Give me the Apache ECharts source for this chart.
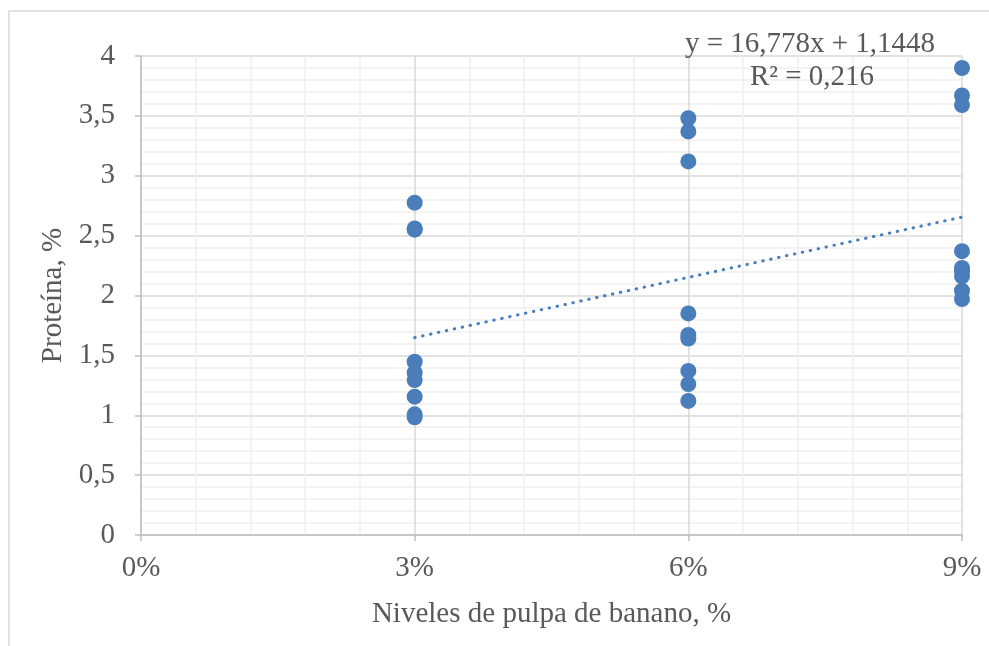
<!DOCTYPE html>
<html>
<head>
<meta charset="utf-8">
<script src="https://cdn.jsdelivr.net/npm/echarts@6/dist/echarts.min.js"></script>
<style>
  html, body { margin: 0; padding: 0; background: #fff; }
  #chart { width: 989px; height: 646px; }
</style>
</head>
<body>
<div id="chart"></div>
<script>
  // niveles de pulpa (fraccion) y proteina medida
  var nivel3 = [2.775, 2.56, 2.55, 1.447, 1.355, 1.294, 1.155, 1.008, 0.983];
  var nivel6 = [3.48, 3.37, 3.12, 1.85, 1.67, 1.64, 1.37, 1.26, 1.12];
  var nivel9 = [3.9, 3.67, 3.59, 2.37, 2.23, 2.2, 2.16, 2.04, 1.97];
  var niveles = [0.03, 0.06, 0.09];
  // tendencia lineal (excel)
  var pendiente = 16.778;
  var intercepto = 1.1448;
  var textoEcuacion = 'y = 16,778x + 1,1448';
  var textoR2 = 'R² = 0,216';

  var puntos = [];
  [nivel3, nivel6, nivel9].forEach(function (grupo, i) {
    for (var j = 0; j < grupo.length; j++) {
      puntos.push([niveles[i], grupo[j]]);
    }
  });
  var tendencia = [
    [niveles[0], pendiente * niveles[0] + intercepto],
    [niveles[2], pendiente * niveles[2] + intercepto]
  ];

  var fuente = 'Liberation Serif';
  var gris = '#595959';
  var azul = '#4a7ebb';

  var myChart = echarts.init(document.getElementById('chart'));
  var option = {
    animation: false,
    grid: { left: 141, right: 27, top: 56, bottom: 111 },
    xAxis: {
      type: 'value',
      min: 0,
      max: 0.09,
      interval: 0.03,
      name: 'Niveles de pulpa de banano, %',
      nameLocation: 'middle',
      nameGap: 65,
      nameTextStyle: { color: gris, fontFamily: fuente, fontSize: 29 },
      axisLine: { show: true, lineStyle: { color: '#bfbfbf', width: 1.5 } },
      axisTick: { show: true, length: 6, lineStyle: { color: '#bfbfbf', width: 1.5 } },
      axisLabel: {
        color: gris, fontFamily: fuente, fontSize: 29, margin: 19,
        formatter: function (v) { return Math.round(v * 100) + '%'; }
      },
      splitLine: { show: true, lineStyle: { color: '#d9d9d9', width: 1.5 } },
      minorTick: { show: false, splitNumber: 5 },
      minorSplitLine: { show: true, lineStyle: { color: '#f0f0f0', width: 1.5 } }
    },
    yAxis: {
      type: 'value',
      min: 0,
      max: 4,
      interval: 0.5,
      name: 'Proteína, %',
      nameLocation: 'middle',
      nameRotate: 90,
      nameGap: 71,
      nameTextStyle: { color: gris, fontFamily: fuente, fontSize: 29 },
      axisLine: { show: true, lineStyle: { color: '#bfbfbf', width: 1.5 } },
      axisTick: { show: true, length: 6, lineStyle: { color: '#bfbfbf', width: 1.5 } },
      axisLabel: {
        color: gris, fontFamily: fuente, fontSize: 29, margin: 26,
        formatter: function (v) { return String(v).replace('.', ','); }
      },
      splitLine: { show: true, lineStyle: { color: '#d9d9d9', width: 1.5 } },
      minorTick: { show: false, splitNumber: 5 },
      minorSplitLine: { show: true, lineStyle: { color: '#f0f0f0', width: 1.5 } }
    },
    series: [
      {
        type: 'line',
        data: tendencia,
        symbol: 'none',
        lineStyle: { color: azul, width: 3, type: [0.5, 7.6], cap: 'round' },
        z: 2
      },
      {
        type: 'scatter',
        data: puntos,
        symbol: 'circle',
        symbolSize: 16,
        itemStyle: { color: azul, opacity: 1 },
        z: 3
      }
    ],
    graphic: [
      {
        type: 'rect',
        shape: { x: 9, y: 11, width: 1000, height: 700 },
        style: { fill: 'none', stroke: '#d9d9d9', lineWidth: 1.5 },
        silent: true
      },
      {
        type: 'text',
        x: 810,
        y: 44,
        style: {
          text: textoEcuacion, fill: gris, font: '29px "' + fuente + '"',
          align: 'center', verticalAlign: 'middle'
        },
        z: 10
      },
      {
        type: 'text',
        x: 812,
        y: 77,
        style: {
          text: textoR2, fill: gris, font: '29px "' + fuente + '"',
          align: 'center', verticalAlign: 'middle'
        },
        z: 10
      }
    ]
  };
  myChart.setOption(option);
</script>
</body>
</html>
